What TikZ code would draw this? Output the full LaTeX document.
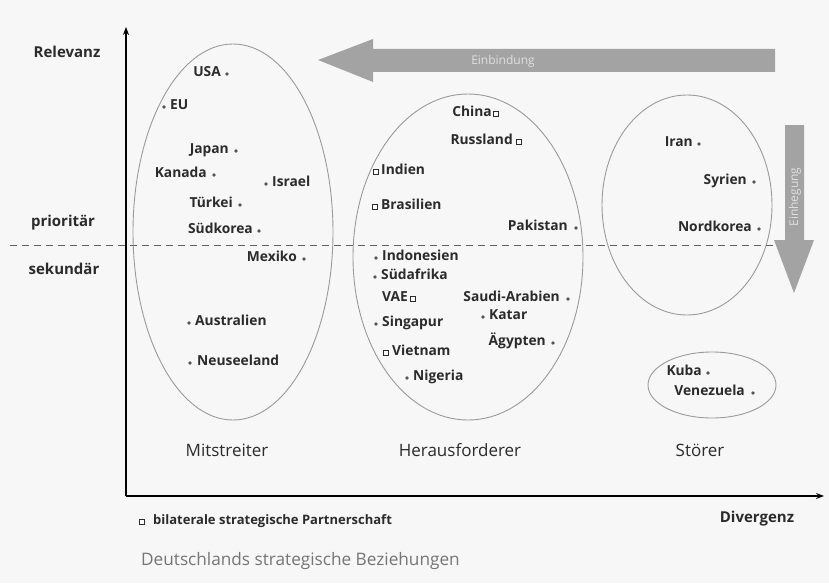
\documentclass[tikz,border=0pt]{standalone}
\usepackage{fontspec}
\setmainfont{Open Sans}
\usetikzlibrary{arrows.meta}
\definecolor{bg}{HTML}{F7F7F7}
\definecolor{txt}{HTML}{2B2B2B}
\definecolor{arr}{HTML}{A3A3A3}
\definecolor{ell}{HTML}{9A9A9A}
\tikzset{
  lbl/.style={inner sep=0pt, text=txt, font=\bfseries\fontsize{13.8}{15}\selectfont},
  axl/.style={inner sep=0pt, text=txt, font=\bfseries\fontsize{15}{17}\selectfont},
  grp/.style={inner sep=0pt, text=txt, font=\fontsize{17}{19}\selectfont},
  dotm/.style={circle, fill=txt!80, inner sep=0pt, minimum size=3.8pt},
  sqm/.style={rectangle, draw=txt, line width=0.9pt, fill=white, inner sep=0pt, minimum size=5pt},
  grpell/.style={draw=ell, line width=0.9pt},
  bigarrow/.style={fill=arr, draw=none},
  arrlbl/.style={inner sep=0pt, text=white!88!black, font=\fontsize{12}{13}\selectfont},
}
\begin{document}
\begin{tikzpicture}[x=1pt, y=-1pt]
\fill[bg] (0,0) rectangle (829,583);
\useasboundingbox (0,0) rectangle (829,583);

% group ellipses
\draw[grpell] (233,232) ellipse [x radius=100, y radius=188];
\draw[grpell] (468,257) ellipse [x radius=115, y radius=163];
\draw[grpell] (687,205) ellipse [x radius=85, y radius=110];
\draw[grpell] (712,385) ellipse [x radius=64, y radius=33];

% dashed separator
\coordinate (dl) at (10,245);
\coordinate (dr) at (777,245);
\draw[txt!75, line width=0.8pt, dash pattern=on 7pt off 5pt] (dl) -- (dr);

% big arrows
\path[bigarrow] (775,49) -- (373,49) -- (373,39) -- (318,60) -- (373,82) -- (373,72) -- (775,72) -- cycle;
\node[arrlbl] (einb) at (503,61) {Einbindung};
\path[bigarrow] (785,125) -- (804,125) -- (804,240) -- (814,240) -- (794,293) -- (774,240) -- (785,240) -- cycle;
\node[arrlbl, rotate=90] (einh) at (795,197) {Einhegung};

% axes
\coordinate (o) at (126,496);
\coordinate (ytop) at (126,27);
\coordinate (xend) at (824,496);
\draw[black, line width=1.5pt, -{Stealth[length=8pt,width=6pt]}] (o) -- (ytop);
\draw[black, line width=1.5pt, -{Stealth[length=8pt,width=6pt]}] (o) -- (xend);

% axis labels
\node[axl] (relevanz) at (67,52) {Relevanz};
\node[axl] (prior) at (63,223) {prioritär};
\node[axl] (sekund) at (64,269) {sekundär};
\node[axl] (diverg) at (757,519) {Divergenz};

% group labels
\node[grp] (mit) at (227,450) {Mitstreiter};
\node[grp] (her) at (460,450) {Herausforderer};
\node[grp] (stoe) at (700,450) {Störer};

% Mitstreiter
\node[dotm] (usam) at (227,74) {};
\node[lbl, anchor=mid east] (usa) at (221,74) {USA};
\node[dotm] (eum) at (164,107) {};
\node[lbl, anchor=mid west] (eu) at (170,107) {EU};
\node[dotm] (japm) at (236,151) {};
\node[lbl, anchor=mid east] (jap) at (229,151) {Japan};
\node[dotm] (kanm) at (214,175) {};
\node[lbl, anchor=mid east] (kan) at (207,175) {Kanada};
\node[dotm] (isrm) at (266,184) {};
\node[lbl, anchor=mid west] (isr) at (272,184) {Israel};
\node[dotm] (tuem) at (240,205) {};
\node[lbl, anchor=mid east] (tue) at (233,205) {Türkei};
\node[dotm] (sdkm) at (259,231) {};
\node[lbl, anchor=mid east] (sdk) at (253,231) {Südkorea};
\node[dotm] (mexm) at (304,259) {};
\node[lbl, anchor=mid east] (mex) at (297,259) {Mexiko};
\node[dotm] (ausm) at (189,323) {};
\node[lbl, anchor=mid west] (aus) at (195,323) {Australien};
\node[dotm] (neum) at (190,363) {};
\node[lbl, anchor=mid west] (neu) at (197,363) {Neuseeland};

% Herausforderer
\node[sqm] (chim) at (496,114) {};
\node[lbl, anchor=mid east] (chi) at (492,114) {China};
\node[sqm] (rusm) at (519,142) {};
\node[lbl, anchor=mid east] (rus) at (513,142) {Russland};
\node[sqm] (indm) at (376,172) {};
\node[lbl, anchor=mid west] (ind) at (381,172) {Indien};
\node[sqm] (brm) at (375,207) {};
\node[lbl, anchor=mid west] (br) at (381,207) {Brasilien};
\node[dotm] (pakm) at (576,228) {};
\node[lbl, anchor=mid east] (pak) at (568,228) {Pakistan};
\node[dotm] (idom) at (376,258) {};
\node[lbl, anchor=mid west] (ido) at (382,258) {Indonesien};
\node[dotm] (safm) at (375,277) {};
\node[lbl, anchor=mid west] (saf) at (381,277) {Südafrika};
\node[sqm] (vaem) at (413,299) {};
\node[lbl, anchor=mid east] (vae) at (408,299) {VAE};
\node[dotm] (sinm) at (376,324) {};
\node[lbl, anchor=mid west] (sin) at (382,324) {Singapur};
\node[sqm] (vietm) at (386,353) {};
\node[lbl, anchor=mid west] (viet) at (392,353) {Vietnam};
\node[dotm] (nigm) at (407,378) {};
\node[lbl, anchor=mid west] (nig) at (413,378) {Nigeria};
\node[dotm] (saum) at (568,299) {};
\node[lbl, anchor=mid east] (sau) at (560,299) {Saudi-Arabien};
\node[dotm] (katm) at (483,317) {};
\node[lbl, anchor=mid west] (kat) at (489,317) {Katar};
\node[dotm] (aegm) at (553,343) {};
\node[lbl, anchor=mid east] (aeg) at (546,343) {Ägypten};

% Störer
\node[dotm] (iranm) at (699,144) {};
\node[lbl, anchor=mid east] (iran) at (693,144) {Iran};
\node[dotm] (syrm) at (754,182) {};
\node[lbl, anchor=mid east] (syr) at (747,182) {Syrien};
\node[dotm] (nkm) at (759,229) {};
\node[lbl, anchor=mid east] (nk) at (752,229) {Nordkorea};
\node[dotm] (kubm) at (708,373) {};
\node[lbl, anchor=mid east] (kub) at (702,373) {Kuba};
\node[dotm] (venm) at (753,393) {};
\node[lbl, anchor=mid east] (ven) at (745,393) {Venezuela};

% legend and title
\node[sqm] (legm) at (142,522) {};
\node[lbl, anchor=mid west, font=\bfseries\fontsize{13}{15}\selectfont] (leg) at (153,522) {bilaterale strategische Partnerschaft};
\node[inner sep=0pt, anchor=mid west, text=txt!65, font=\fontsize{17.2}{19}\selectfont] (title) at (141,563) {Deutschlands strategische Beziehungen};
\end{tikzpicture}
\end{document}
